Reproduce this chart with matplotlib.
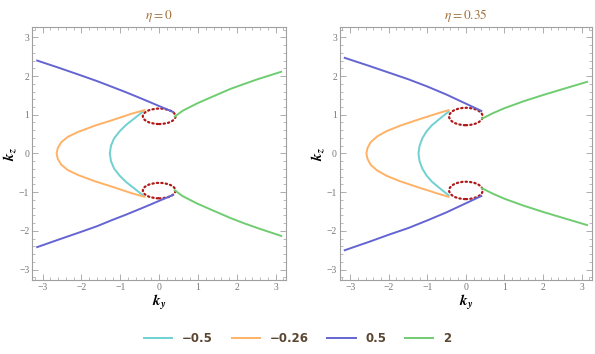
import numpy as np
import matplotlib.pyplot as plt
from matplotlib.patches import Ellipse
from matplotlib.ticker import MultipleLocator

plt.rcParams['mathtext.fontset'] = 'stix'

# 曲線資料, 每個面板: 上支與下支
etas = ['0', '0.35']
levels = ['\u22120.5', '\u22120.26', '0.5', '2']
colors = ['#6fd0d0', '#ffb266', '#6464d2', '#70cc70']

# eta = 0
cyan0_x = [-0.42, -0.62, -0.86, -1.02, -1.16, -1.24, -1.27, -1.24, -1.16, -1.02, -0.86, -0.62, -0.42]
cyan0_y = [1.08, 0.92, 0.73, 0.57, 0.39, 0.20, 0.0, -0.20, -0.39, -0.57, -0.73, -0.92, -1.08]
orange0_x = [-0.38, -0.7, -1.21, -1.65, -2.08, -2.35, -2.52, -2.61, -2.64,
             -2.61, -2.52, -2.35, -2.08, -1.65, -1.21, -0.7, -0.38]
orange0_y = [1.12, 1.03, 0.86, 0.72, 0.56, 0.43, 0.29, 0.14, 0.0,
             -0.14, -0.29, -0.43, -0.56, -0.72, -0.86, -1.03, -1.12]
blue0_x = [-3.14, -2.6, -2.08, -1.6, -1.21, -0.85, -0.51, -0.2, 0.01, 0.2, 0.36]
blue0_up = [2.40, 2.22, 2.04, 1.87, 1.72, 1.58, 1.44, 1.31, 1.22, 1.14, 1.07]
blue0_dn = [-2.42, -2.23, -2.05, -1.88, -1.72, -1.58, -1.44, -1.31, -1.22, -1.14, -1.07]
green0_x = [0.40, 0.6, 0.97, 1.40, 1.84, 2.2, 2.54, 3.14]
green0_up = [0.95, 1.10, 1.29, 1.48, 1.67, 1.80, 1.92, 2.11]
green0_dn = [-0.95, -1.10, -1.29, -1.48, -1.67, -1.81, -1.93, -2.13]
ring0 = (0.0, 0.96, 0.84, 0.40)  # center x, center y, width, height

# eta = 0.35
cyan1_x = [-0.45, -0.65, -0.88, -1.02, -1.13, -1.20, -1.23, -1.20, -1.13, -1.02, -0.88, -0.65, -0.45]
cyan1_y = [1.08, 0.92, 0.73, 0.57, 0.39, 0.20, 0.0, -0.20, -0.39, -0.57, -0.73, -0.92, -1.08]
orange1_x = [-0.45, -0.75, -1.25, -1.7, -2.05, -2.3, -2.47, -2.55, -2.58,
             -2.55, -2.47, -2.3, -2.05, -1.7, -1.25, -0.75, -0.45]
orange1_y = [1.12, 1.03, 0.87, 0.72, 0.58, 0.44, 0.29, 0.14, 0.0,
             -0.14, -0.29, -0.44, -0.58, -0.72, -0.87, -1.03, -1.12]
blue1_x = [-3.14, -2.5, -2.0, -1.5, -1.0, -0.5, -0.2, 0.1, 0.4]
blue1_up = [2.47, 2.26, 2.09, 1.92, 1.73, 1.52, 1.38, 1.24, 1.10]
blue1_dn = [-2.50, -2.28, -2.10, -1.93, -1.73, -1.52, -1.38, -1.24, -1.10]
green1_x = [0.42, 0.7, 1.0, 1.5, 2.0, 2.5, 3.14]
green1_up = [0.90, 1.04, 1.17, 1.35, 1.51, 1.66, 1.85]
green1_dn = [-0.90, -1.04, -1.17, -1.35, -1.51, -1.66, -1.85]
ring1 = (0.0, 0.955, 0.87, 0.45)

panels = [
    (cyan0_x, cyan0_y, orange0_x, orange0_y, blue0_x, blue0_up, blue0_dn, green0_x, green0_up, green0_dn, ring0),
    (cyan1_x, cyan1_y, orange1_x, orange1_y, blue1_x, blue1_up, blue1_dn, green1_x, green1_up, green1_dn, ring1),
]

fig = plt.figure(figsize=(5.95, 3.54), dpi=100)
ax_pos = [[0.054, 0.209, 0.427, 0.715], [0.571, 0.209, 0.424, 0.715]]

frame_col = '#a0a0a0'
lw = 1.4
tick_txt = ['\u22123', '\u22122', '\u22121', '0', '1', '2', '3']

for i, p in enumerate(panels):
    cx, cy, ox, oy, bx, bup, bdn, gx, gup, gdn, ring = p
    ax = fig.add_axes(ax_pos[i])
    ax.plot(cx, cy, color=colors[0], lw=lw, label=levels[0])
    ax.plot(ox, oy, color=colors[1], lw=lw, label=levels[1])
    ax.plot(bx, bup, color=colors[2], lw=lw, label=levels[2])
    ax.plot(bx, bdn, color=colors[2], lw=lw)
    ax.plot(gx, gup, color=colors[3], lw=lw, label=levels[3])
    ax.plot(gx, gdn, color=colors[3], lw=lw)
    x0, yc, w, h = ring
    for s in (1, -1):
        ax.add_patch(Ellipse((x0, s * yc), w, h, fill=False, edgecolor='#b01818',
                             lw=1.6, linestyle=(0, (0.6, 1.4)), capstyle='round'))

    ax.set_xlim(-3.27, 3.27)
    ax.set_ylim(-3.27, 3.27)
    ax.xaxis.set_minor_locator(MultipleLocator(0.2))
    ax.yaxis.set_minor_locator(MultipleLocator(0.2))
    ax.tick_params(which='both', direction='in', top=True, right=True, color=frame_col,
                   labelsize=7, labelcolor='#777777', pad=2)
    ax.tick_params(which='major', length=4, width=0.6)
    ax.tick_params(which='minor', length=2, width=0.5)
    ax.set_xticks(range(-3, 4))
    ax.set_xticklabels(tick_txt, family='Liberation Serif')
    ax.set_yticks(range(-3, 4))
    ax.set_yticklabels(tick_txt, family='Liberation Serif')
    for sp in ax.spines.values():
        sp.set_color(frame_col)
        sp.set_linewidth(0.8)
    ax.set_title(r'$\eta = %s$' % etas[i], color='#a0703c', fontsize=9.5, pad=6)
    ax.set_xlabel(r'$\mathbfit{k}_{\mathbfit{y}}$', fontsize=11, labelpad=1)
    ax.set_ylabel(r'$\mathbfit{k}_{\mathbfit{z}}$', fontsize=11, labelpad=0)
    if i == 0:
        handles, labels = ax.get_legend_handles_labels()

leg = fig.legend(handles, labels, loc='lower center', bbox_to_anchor=(0.5, -0.005), ncol=4,
                 frameon=False, handlelength=2.4, handletextpad=0.8, columnspacing=1.6,
                 prop={'family': 'DejaVu Sans', 'weight': 'bold', 'size': 8.5})
for t in leg.get_texts():
    t.set_color('#5a4632')

fig.savefig('out.png', dpi=100)
